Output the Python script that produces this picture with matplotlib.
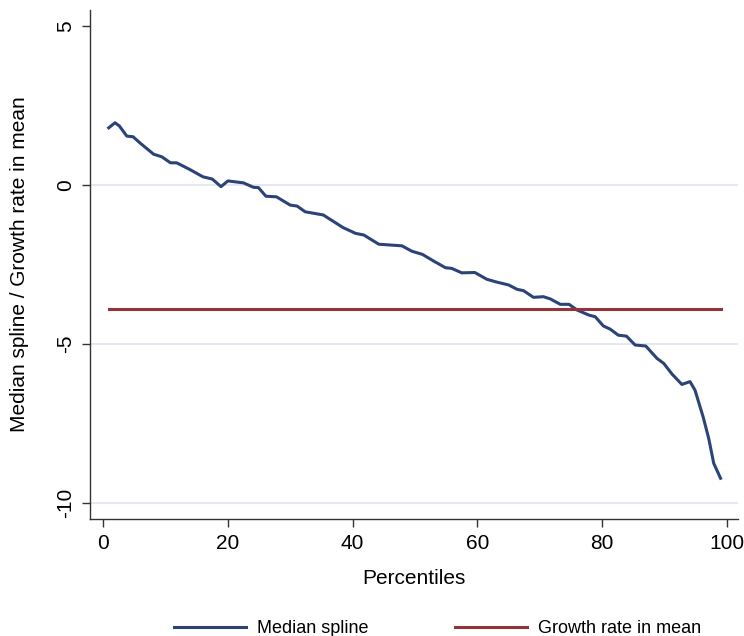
import numpy as np
import matplotlib.pyplot as plt

plt.rcParams['font.family'] = ['Liberation Sans', 'DejaVu Sans']

# values
pct = [0.9, 1.9, 2.6, 3.8, 4.8, 6.0, 8.1, 9.4, 10.8, 11.8, 13.9, 16.0, 17.5, 18.9,
       20.0, 22.5, 24.1, 24.9, 26.1, 27.8, 30.0, 31.1, 32.4, 35.3, 38.5, 40.5, 41.8,
       44.2, 47.9, 49.5, 51.2, 53.0, 54.9, 55.9, 57.5, 59.6, 61.5, 62.9, 65.0, 66.4,
       67.4, 69.0, 70.6, 71.7, 73.3, 74.7, 76.0, 77.9, 78.9, 80.2, 81.3, 82.6, 83.9,
       85.3, 87.0, 88.8, 89.9, 91.2, 92.8, 94.1, 94.9, 96.2, 97.1, 97.9, 99.0]
median_spline = [1.80, 1.96, 1.86, 1.54, 1.52, 1.31, 0.97, 0.89, 0.70, 0.70, 0.49, 0.26,
                 0.19, -0.05, 0.13, 0.07, -0.07, -0.08, -0.35, -0.37, -0.63, -0.66, -0.84,
                 -0.94, -1.34, -1.52, -1.57, -1.86, -1.91, -2.08, -2.18, -2.39, -2.60,
                 -2.62, -2.76, -2.75, -2.96, -3.04, -3.14, -3.28, -3.32, -3.53, -3.51,
                 -3.58, -3.75, -3.75, -3.93, -4.09, -4.14, -4.43, -4.53, -4.72, -4.75,
                 -5.03, -5.06, -5.45, -5.61, -5.94, -6.27, -6.18, -6.45, -7.29, -7.97,
                 -8.75, -9.22]
mean_x = [1, 99]
mean_growth = [-3.91, -3.91]

fig = plt.figure(figsize=(7.44, 6.36), dpi=100)
ax = fig.add_axes([0.121, 0.184, 0.871, 0.800])

for g in [0, -5, -10]:
    ax.axhline(g, color='#dfe4ef', lw=1.2, zorder=0)

l1, = ax.plot(pct, median_spline, color='#2b4377', lw=2.2, label='Median spline',
              solid_joinstyle='round')
l2, = ax.plot(mean_x, mean_growth, color='#92343a', lw=2.2, label='Growth rate in mean')

ax.set_xlim(-2.1, 101.8)
ax.set_ylim(-10.5, 5.5)
ax.set_xticks([0, 20, 40, 60, 80, 100])
ax.set_yticks([5, 0, -5, -10])
ax.set_yticklabels(['5', '0', '-5', '-10'], rotation=90, va='center')
for s in ['top', 'right']:
    ax.spines[s].set_visible(False)
for s in ['left', 'bottom']:
    ax.spines[s].set_color('#333333')
    ax.spines[s].set_linewidth(1.0)
ax.tick_params(direction='out', length=6, width=1, colors='#333333', labelsize=15,
               labelcolor='black', pad=5)
ax.set_xlabel('Percentiles', fontsize=15, labelpad=11)
ax.set_ylabel('Median spline / Growth rate in mean', fontsize=15, labelpad=19)

fig.legend(handles=[l1, l2], loc='lower center', bbox_to_anchor=(0.588, -0.027),
           ncol=2, frameon=False, fontsize=13, handlelength=4.0, handletextpad=0.6,
           columnspacing=4.8)

fig.savefig('out.png', dpi=100)
